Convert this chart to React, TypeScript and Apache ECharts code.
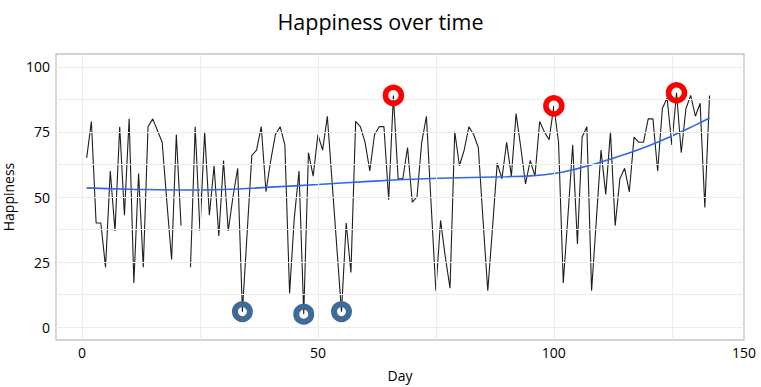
import React, { useEffect, useRef } from "react";
import * as echarts from "echarts";

const START_DAY = 1;
const happiness: (number | null)[] = [
  65, 79, 40, 40, 23, 60, 37, 77, 43, 80,
  17, 59, 23, 77, 80, 75.5, 71, 48, 26, 74,
  39, null, 23, 77, 37, 75, 43, 62, 35, 64,
  37, 50, 61, 6, 36, 66, 68, 77, 52, 64,
  74, 77, 70, 13, 42, 60, 5, 67, 58, 74,
  68, 81, 56, 31, 6, 40, 21, 79, 77, 71,
  60, 74, 77, 77, 49, 89, 57, 57, 69, 48,
  50, 71, 81, 47, 14, 41, 27, 15, 75, 62,
  68, 77, 74, 69, 41, 14, 38, 63, 57, 71,
  58, 82, 69, 55, 64, 58, 79, 75, 72, 85,
  71, 17, 43, 70, 32, 73, 77, 14, 41, 68,
  51, 75, 39, 57, 61, 52, 73, 71, 71, 80,
  80, 60, 84, 88, 70, 90, 67, 84, 89, 81,
  86, 46, 89,
];

const trendDays = [1, 10, 20, 30, 40, 50, 60, 70, 80, 90, 95, 100, 105, 110, 115, 120, 125, 130, 133];
const trendValues = [53.5, 53.0, 52.7, 52.9, 53.8, 54.8, 55.9, 56.8, 57.4, 57.8, 58.1, 59.0, 60.9, 63.4, 66.3, 69.6, 73.4, 77.6, 80.3];

const peakDays = [66, 100, 126];
const troughDays = [34, 47, 55];

const xTickValues = [0, 50, 100];
const xTickLabels = ["0", "50", "100", "150"];
const yTickValues = [0, 25, 50, 75, 100];
const xGridValues = [0, 25, 50, 75, 100, 125];
const yGridValues = [0, 12.5, 25, 37.5, 50, 62.5, 75, 87.5, 100];

const X_MIN = -5.5;
const X_MAX = 140.3;
const Y_MIN = -4.9;
const Y_MAX = 104.9;

const FONT = "Open Sans";

export default function App() {
  const ref = useRef<HTMLDivElement>(null);

  useEffect(() => {
    document.body.style.margin = "0";
    if (!ref.current) return;
    const chart = echarts.init(ref.current, null, { renderer: "svg" });

    const lineData = happiness.map((v, i) => [i + START_DAY, v === null ? "-" : v]);
    const valueAt = (d: number) => happiness[d - START_DAY] as number;
    const labelPositions = [...xTickValues, X_MAX];

    const option: any = {
      animation: false,
      backgroundColor: "#ffffff",
      textStyle: { fontFamily: FONT },
      title: {
        text: "Happiness over time",
        left: "center",
        top: 5,
        textStyle: { fontFamily: FONT, fontSize: 21.5, fontWeight: "normal", color: "#000" },
      },
      grid: {
        left: 56,
        right: 17,
        top: 54,
        bottom: 47,
        outerBoundsMode: "none",
        containLabel: false,
        show: true,
        borderColor: "#c4c4c4",
        borderWidth: 1.3,
        backgroundColor: "#ffffff",
      },
      xAxis: {
        type: "value",
        min: X_MIN,
        max: X_MAX,
        name: "Day",
        nameLocation: "middle",
        nameGap: 28,
        nameTextStyle: { fontFamily: FONT, fontSize: 14, color: "#000" },
        axisLine: { show: false },
        splitLine: { show: false },
        axisTick: {
          show: true,
          length: 3,
          customValues: xTickValues,
          lineStyle: { color: "#333", width: 1 },
        },
        axisLabel: {
          customValues: labelPositions,
          margin: 5,
          fontFamily: FONT,
          fontSize: 14,
          color: "#000",
          formatter: (v: number) => {
            let best = 0;
            labelPositions.forEach((p, i) => {
              if (Math.abs(p - v) < Math.abs(labelPositions[best] - v)) best = i;
            });
            return xTickLabels[best];
          },
        },
      },
      yAxis: {
        type: "value",
        min: Y_MIN,
        max: Y_MAX,
        name: "Happiness",
        nameLocation: "middle",
        nameRotate: 90,
        nameGap: 33,
        nameTextStyle: { fontFamily: FONT, fontSize: 14, color: "#000" },
        axisLine: { show: false },
        splitLine: { show: false },
        axisTick: {
          show: true,
          length: 3,
          customValues: yTickValues,
          lineStyle: { color: "#333", width: 1 },
        },
        axisLabel: {
          customValues: yTickValues,
          margin: 6,
          fontFamily: FONT,
          fontSize: 14,
          color: "#000",
        },
      },
      series: [
        {
          type: "line",
          data: [],
          z: 1,
          silent: true,
          markLine: {
            silent: true,
            symbol: ["none", "none"],
            label: { show: false },
            lineStyle: { color: "#ececec", width: 1, type: "solid" },
            data: [
              ...xGridValues.map((v) => ({ xAxis: v })),
              ...yGridValues.map((v) => ({ yAxis: v })),
            ],
          },
        },
        {
          type: "line",
          data: lineData,
          z: 3,
          showSymbol: false,
          connectNulls: false,
          lineStyle: { color: "#1e1e1e", width: 1.1 },
          itemStyle: { color: "#1e1e1e" },
        },
        {
          type: "line",
          data: trendDays.map((d, i) => [d, trendValues[i]]),
          z: 4,
          smooth: 0.5,
          showSymbol: false,
          lineStyle: { color: "#3366e6", width: 1.6 },
          itemStyle: { color: "#3366e6" },
        },
        {
          type: "scatter",
          data: peakDays.map((d) => [d, valueAt(d)]),
          z: 5,
          symbol: "circle",
          symbolSize: 16,
          itemStyle: { color: "rgba(0,0,0,0)", borderColor: "#ff0000", borderWidth: 5.5, opacity: 1 },
        },
        {
          type: "scatter",
          data: troughDays.map((d) => [d, valueAt(d)]),
          z: 5,
          symbol: "circle",
          symbolSize: 15,
          itemStyle: { color: "rgba(0,0,0,0)", borderColor: "#3f6b96", borderWidth: 6, opacity: 1 },
        },
      ],
    };

    chart.setOption(option);
    return () => chart.dispose();
  }, []);

  return <div ref={ref} style={{ width: 761, height: 387 }} />;
}
